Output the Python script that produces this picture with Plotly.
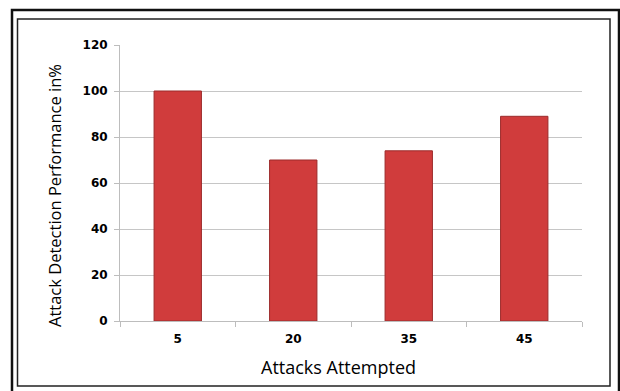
import plotly.graph_objects as go

categories = ["5", "20", "35", "45"]
values = [100, 70, 74, 89]
y_ticks = [0, 20, 40, 60, 80, 100, 120]
x_title = "Attacks Attempted"
y_title = "Attack Detection Performance in%"

W, H = 620, 391
L, R, T, B = 120, 38, 45, 70
pw, ph = W - L - R, H - T - B

def px_x(x):
    return (x - L) / pw

def px_y(y):
    return (H - B - y) / ph

tick_font = dict(family="DejaVu Sans", size=12, weight="bold", color="black")

fig = go.Figure()
fig.add_trace(go.Bar(
    x=categories, y=values,
    marker=dict(color="#d03c3c", line=dict(color="#9c2b2b", width=1)),
    width=0.41,
))

fig.update_layout(
    width=W, height=H,
    margin=dict(l=L, r=R, t=T, b=B),
    paper_bgcolor="white", plot_bgcolor="white",
    showlegend=False,
    font=dict(family="DejaVu Sans", color="black"),
    xaxis=dict(
        type="category",
        showgrid=False,
        showline=True, linecolor="#bdbdbd", linewidth=1,
        ticks="outside", ticklen=5, tickcolor="#bdbdbd",
        tickson="boundaries",
        ticklabelstandoff=7,
        tickfont=tick_font,
    ),
    yaxis=dict(
        range=[0, 120],
        tickvals=y_ticks,
        showgrid=True, gridcolor="#c6c6c6", gridwidth=1,
        showline=True, linecolor="#bdbdbd", linewidth=1,
        ticks="outside", ticklen=5, tickcolor="#bdbdbd",
        zeroline=False,
        ticklabelstandoff=4,
        tickfont=tick_font,
    ),
    annotations=[
        dict(text=x_title, xref="paper", yref="paper",
             x=px_x(338.5), y=px_y(367), xanchor="center", yanchor="middle",
             showarrow=False, font=dict(family="Open Sans", size=18, color="black")),
        dict(text=y_title, xref="paper", yref="paper", textangle=-90,
             x=px_x(54), y=px_y(196), xanchor="center", yanchor="middle",
             showarrow=False, font=dict(family="Open Sans", size=16.5, color="black")),
    ],
    shapes=[
        dict(type="rect", xref="paper", yref="paper",
             x0=px_x(12), x1=px_x(619), y0=px_y(393), y1=px_y(10),
             line=dict(color="#111", width=2.5), fillcolor="rgba(0,0,0,0)", layer="below"),
        dict(type="rect", xref="paper", yref="paper",
             x0=px_x(17.5), x1=px_x(610), y0=px_y(386), y1=px_y(19),
             line=dict(color="#222", width=1.5), fillcolor="rgba(0,0,0,0)", layer="below"),
    ],
)

fig.write_html("out.html")
